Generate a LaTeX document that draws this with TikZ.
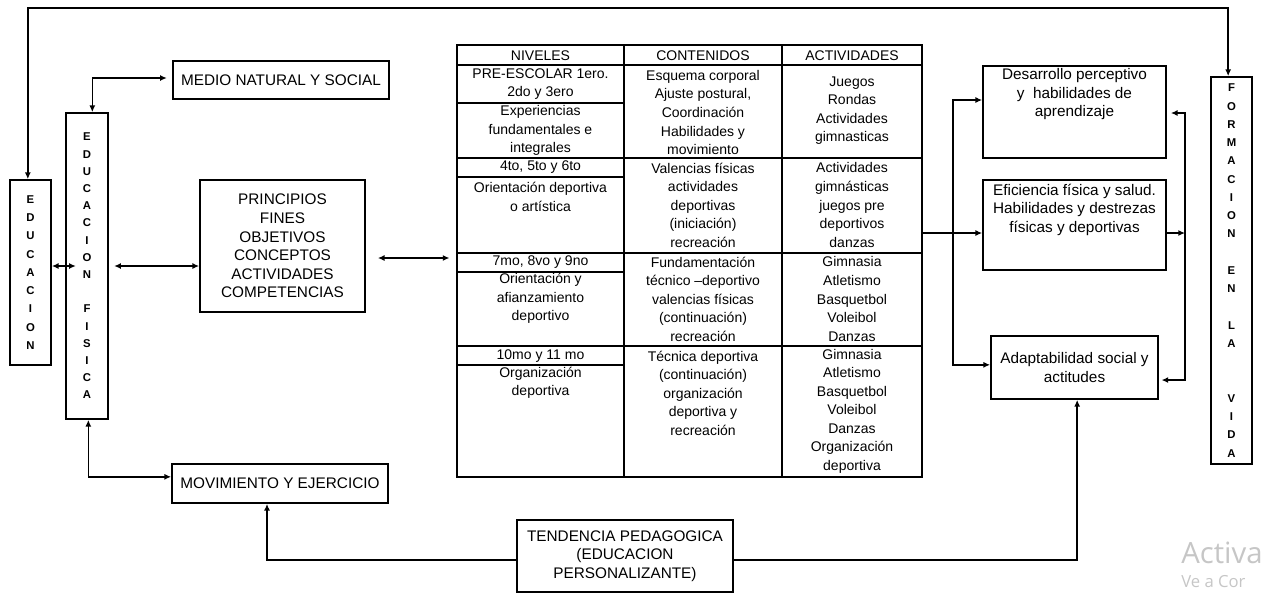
\documentclass[tikz,border=0pt]{standalone}
\usepackage{fontspec}
\setmainfont{Liberation Sans}
\newfontfamily\wmfont{Open Sans}
\usetikzlibrary{arrows.meta}
\usetikzlibrary{positioning}

\begin{document}
\begin{tikzpicture}[x=0.75pt, y=-0.75pt,
                box/.style={draw, line width=1.3pt, inner sep=0pt, align=center,
                        font=\fontsize{11.5}{13.9}\selectfont},
                vert/.style={box, font=\bfseries\fontsize{8.5}{13.7}\selectfont},
                txt/.style={inner sep=0pt, align=center, font=\fontsize{11.5}{13.9}\selectfont},
                cell/.style={txt, font=\fontsize{10.5}{13.9}\selectfont},
                tline/.style={line width=1.3pt},
                arrow/.style={-{Latex[length=5pt,width=4.5pt]}, line width=1.2pt},
                dbl/.style={{Latex[length=5pt,width=4.5pt]}-{Latex[length=5pt,width=4.5pt]}, line width=1.2pt},
            ]
            \useasboundingbox (0,0) rectangle (1264,594);

            % left side
            \node[vert, minimum width=30.75pt, minimum height=138.75pt] (educ) at (30.5,272.5) {E\\D\\U\\C\\A\\C\\I\\O\\N};
            \node[vert, font=\bfseries\fontsize{8.5}{12.9}\selectfont, minimum width=31.5pt, minimum height=229.5pt] (edfis) at (87,266) {E\\D\\U\\C\\A\\C\\I\\O\\N\\[12.9pt]F\\I\\S\\I\\C\\A};
            \node[box, minimum width=162pt, minimum height=28.5pt] (medio) at (281,80) {MEDIO NATURAL Y SOCIAL};
            \node[box, minimum width=123.75pt, minimum height=99pt] (princ) at (282.5,246) {PRINCIPIOS\\FINES\\OBJETIVOS\\CONCEPTOS\\ACTIVIDADES\\COMPETENCIAS};
            \node[box, minimum width=162pt, minimum height=29.25pt] (movim) at (280,483.5) {MOVIMIENTO Y EJERCICIO};
            \node[box, minimum width=162pt, minimum height=54pt] (tend) at (625,556) {TENDENCIA PEDAGOGICA\\(EDUCACION\\PERSONALIZANTE)};

            % table
            \node[draw, line width=1.3pt, inner sep=0pt, minimum width=348.75pt, minimum height=324pt] (tabla) at (689.5,261) {};
            \foreach \x in {624,782}
                \draw[tline] (\x,45) -- (\x,477);
            \foreach \y in {65,158,253,346}
                \draw[tline] (457,\y) -- (922,\y);
            \foreach \y in {103,177,272,365}
                \draw[tline] (457,\y) -- (624,\y);

            \node[cell] (niv) at (540.5,55.5) {NIVELES};
            \node[cell] (cont) at (703,55.5) {CONTENIDOS};
            \node[cell] (act) at (852,55.5) {ACTIVIDADES};

            \node[cell] (niv1) at (540.5,84) {PRE-ESCOLAR 1ero.\\2do y 3ero};
            \node[cell] (niv1b) at (540.5,130.5) {Experiencias\\fundamentales e\\integrales};
            \node[cell] (cont1) at (703,112.5) {Esquema corporal\\Ajuste postural,\\Coordinación\\Habilidades y\\movimiento};
            \node[cell] (act1) at (852,110.5) {Juegos\\Rondas\\Actividades\\gimnasticas};

            \node[cell] (niv2) at (540.5,167.5) {4to, 5to y 6to};
            \node[cell] (niv2b) at (540.5,197) {Orientación deportiva\\o artística};
            \node[cell] (cont2) at (703,205) {Valencias físicas\\actividades\\deportivas\\(iniciación)\\recreación};
            \node[cell] (act2) at (852,205) {Actividades\\gimnásticas\\juegos pre\\deportivos\\danzas};

            \node[cell] (niv3) at (540.5,262.5) {7mo, 8vo y 9no};
            \node[cell] (niv3b) at (540.5,298.5) {Orientación y\\afianzamiento\\deportivo};
            \node[cell] (cont3) at (703,299) {Fundamentación\\técnico –deportivo\\valencias físicas\\(continuación)\\recreación};
            \node[cell] (act3) at (852,299) {Gimnasia\\Atletismo\\Basquetbol\\Voleibol\\Danzas};

            \node[cell] (niv4) at (540.5,356) {10mo y 11 mo};
            \node[cell] (niv4b) at (540.5,383) {Organización\\deportiva};
            \node[cell] (cont4) at (703,393) {Técnica deportiva\\(continuación)\\organización\\deportiva y\\recreación};
            \node[cell] (act4) at (852,411) {Gimnasia\\Atletismo\\Basquetbol\\Voleibol\\Danzas\\Organización\\deportiva};

            % right side
            \node[box, minimum width=137.25pt, minimum height=69pt] (desar) at (1074.5,112) {};
            \node[txt, below=2.5pt of desar.north] (desartxt) {Desarrollo perceptivo\\y\ \ habilidades de\\aprendizaje};
            \node[box, minimum width=137.25pt, minimum height=67.5pt] (efic) at (1074.5,225) {};
            \node[txt, below=3.4pt of efic.north] (efictxt) {Eficiencia física y salud.\\Habilidades y destrezas\\físicas y deportivas};
            \node[box, minimum width=125.25pt, minimum height=47.25pt] (adapt) at (1074.5,367.5) {Adaptabilidad social y\\actitudes};
            \node[vert, minimum width=30.75pt, minimum height=290.25pt] (formac) at (1231.5,270.5) {F\\O\\R\\M\\A\\C\\I\\O\\N\\[13.7pt]E\\N\\[13.7pt]L\\A\\[27.4pt]V\\I\\D\\A};

            \coordinate (toprail) at (600,8);
            \coordinate (lvl) at (400,258);
            \coordinate (fork) at (953,233);
            \coordinate (rail) at (1185,113);

            \draw[dbl] ([xshift=-2pt]educ.north) |- (toprail) -| ([xshift=-2.5pt]formac.north);
            \draw[dbl, shorten >=-8pt] (educ.east |- edfis) -- (edfis.west);
            \draw[dbl, shorten <=4pt] (edfis.east) -- (edfis.east -| princ.west);
            \draw[dbl, shorten >=4pt] ([xshift=4pt]edfis.north) |- ([yshift=1.5pt]medio.west);
            \draw[dbl] ([xshift=1pt]edfis.south) |- ([yshift=5pt]movim.west);
            \draw[dbl, shorten <=9pt, shorten >=5pt] (princ.east |- lvl) -- (tabla.west |- lvl);
            \draw[arrow] ([yshift=-3pt]tend.west) -| ([xshift=-9.75pt]movim.south);
            \draw[arrow] ([yshift=-3pt]tend.east) -| ([xshift=2pt]adapt.south);

            \draw[arrow] (tabla.east |- fork) -- (efic.west |- fork);
            \draw[arrow] (fork) |- ([yshift=9pt]desar.west);
            \draw[arrow] (fork) |- ([yshift=2pt]adapt.west);
            \draw[dbl, shorten <=3pt, shorten >=2pt] (desar.east |- rail) -- (rail) |- ([yshift=-9.4pt]adapt.east);
            \draw[arrow] (efic.east |- fork) -- (rail |- fork);

            \node[anchor=west, inner sep=0pt, text=gray!45, font=\wmfont\fontsize{22}{22}\selectfont] (wm1) at (1181,553) {Activa};
            \node[anchor=west, inner sep=0pt, text=gray!45, font=\wmfont\fontsize{12.5}{12.5}\selectfont] (wm2) at (1181,582) {Ve a Cor};
        \end{tikzpicture}
\end{document}
